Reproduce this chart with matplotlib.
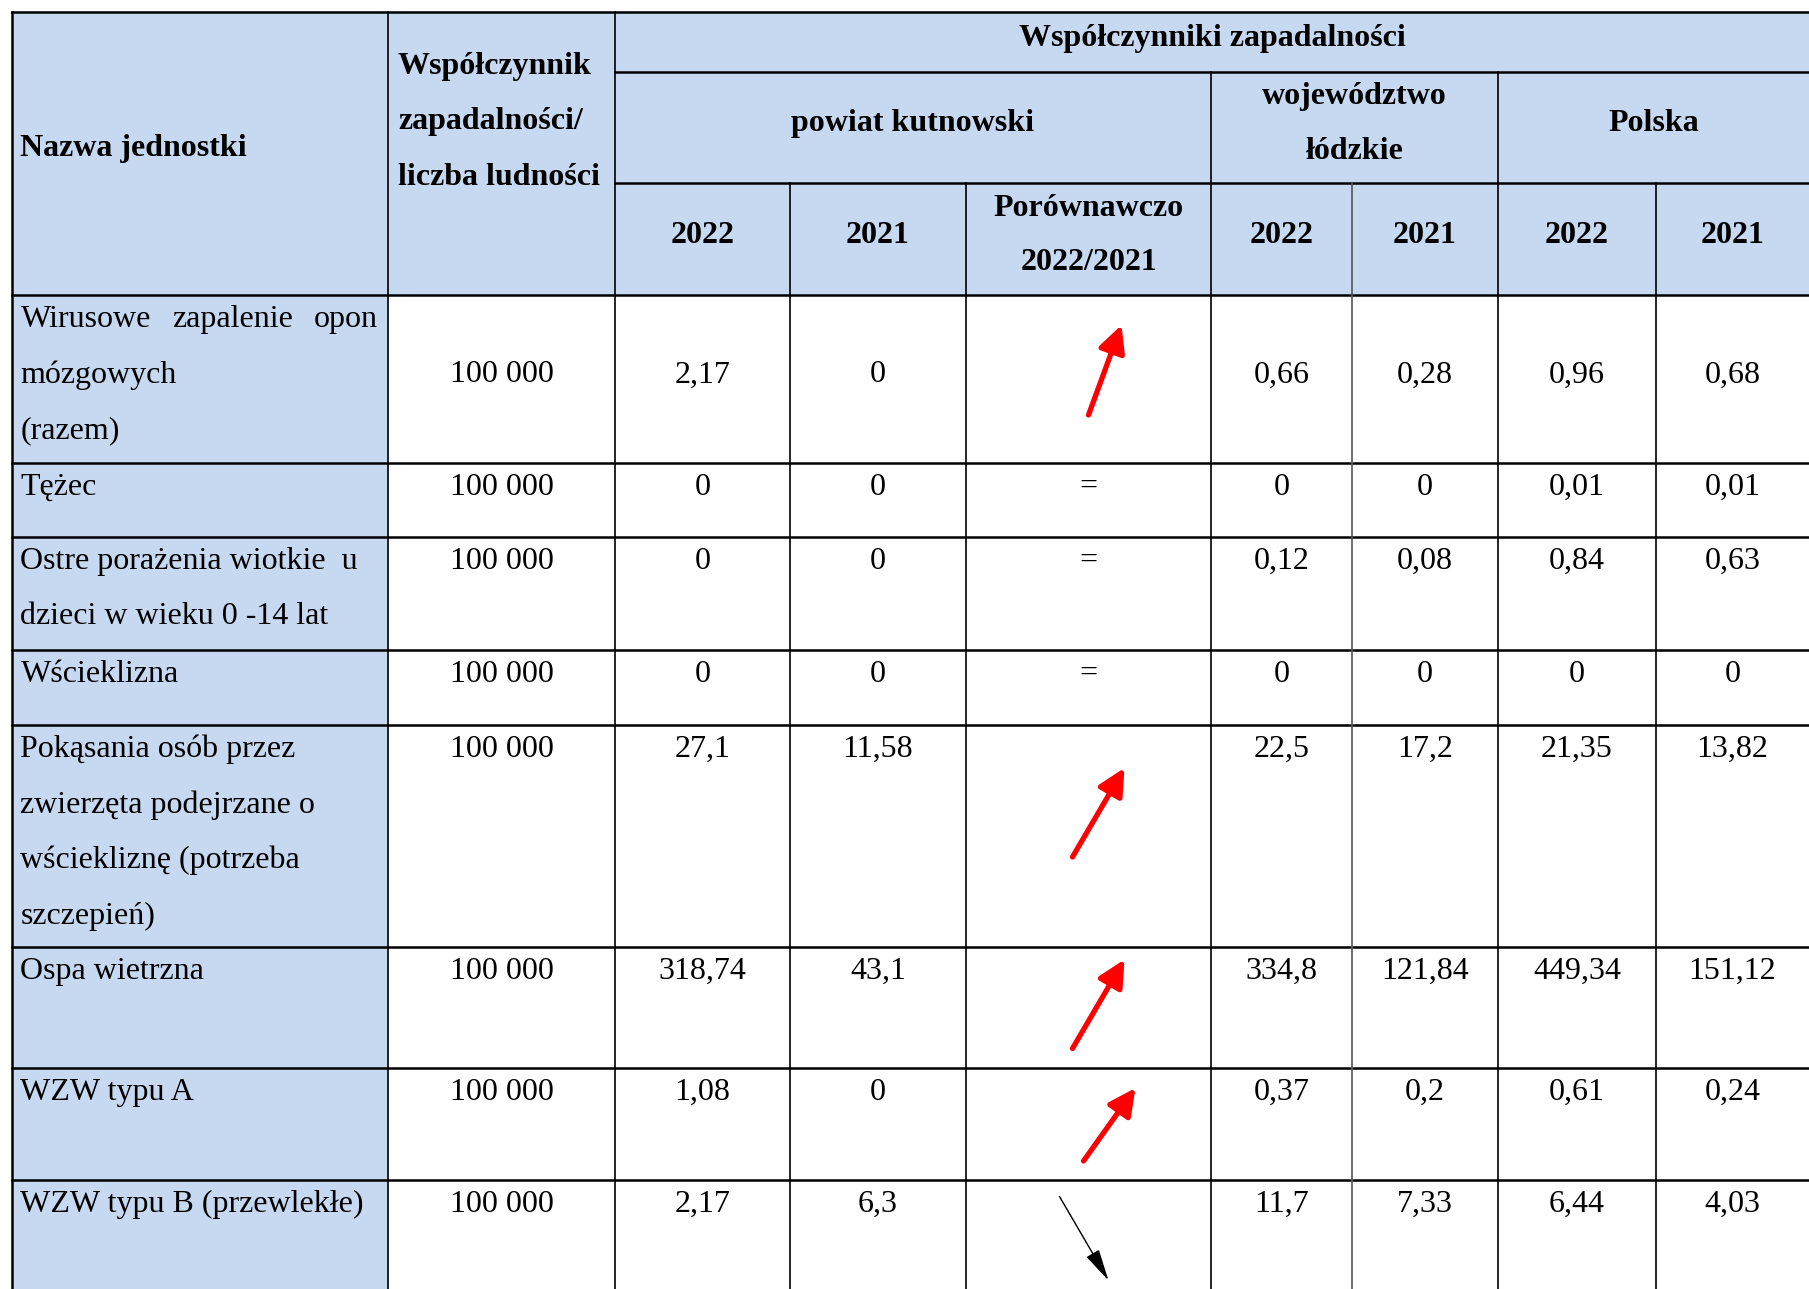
#!/usr/bin/env python3
import matplotlib
matplotlib.use("Agg")
import matplotlib.pyplot as plt
from matplotlib.patches import Rectangle

# --- table content -------------------------------------------------------
disease_names = [
    ["Wirusowe  zapalenie  opon", "mózgowych", "(razem)"],
    ["Tężec"],
    ["Ostre porażenia wiotkie  u", "dzieci w wieku 0 -14 lat"],
    ["Wścieklizna"],
    ["Pokąsania osób przez", "zwierzęta podejrzane o", "wściekliznę (potrzeba", "szczepień)"],
    ["Ospa wietrzna"],
    ["WZW typu A"],
    ["WZW typu B (przewlekłe)"],
]
population_base = ["100 000"] * 8
powiat_2022 = ["2,17", "0", "0", "0", "27,1", "318,74", "1,08", "2,17"]
powiat_2021 = ["0", "0", "0", "0", "11,58", "43,1", "0", "6,3"]
trend = ["up", "=", "=", "=", "up", "up", "up", "down"]
woj_2022 = ["0,66", "0", "0,12", "0", "22,5", "334,8", "0,37", "11,7"]
woj_2021 = ["0,28", "0", "0,08", "0", "17,2", "121,84", "0,2", "7,33"]
pl_2022 = ["0,96", "0,01", "0,84", "0", "21,35", "449,34", "0,61", "6,44"]
pl_2021 = ["0,68", "0,01", "0,63", "0", "13,82", "151,12", "0,24", "4,03"]

# --- layout (pixels of the 1809x1289 canvas) -----------------------------
W, H = 1809, 1289
col_x = [11.5, 388, 615, 790, 966, 1211, 1352, 1498, 1656, 1809]
head_y = [12, 72, 183, 295]
row_y = [295, 463, 537, 650, 725, 947, 1068, 1180, 1289]
line_gap = 55.5
first_line_pad = 21
blue = "#C6D9F1"
fs = 23
serif = "Liberation Serif"

# arrow offsets from cell centre: (start dx, start dy, tip dx, tip dy)
arrow_geom = {
    0: (0, 36, 33, -54),
    4: (-16, 21, 36, -68),
    5: (-16, 41, 36, -48),
    6: (-5, 37, 47, -36),
    7: (-29, -38, 20, 46),
}

fig = plt.figure(figsize=(W / 100, H / 100), dpi=100)
ax = fig.add_axes([0, 0, 1, 1])
ax.set_xlim(0, W)
ax.set_ylim(H, 0)
ax.axis("off")

# fills
ax.add_patch(Rectangle((col_x[0], head_y[0]), W - col_x[0], head_y[3] - head_y[0],
                       facecolor=blue, edgecolor="none"))
ax.add_patch(Rectangle((col_x[0], row_y[0]), col_x[1] - col_x[0], H - row_y[0],
                       facecolor=blue, edgecolor="none"))

# horizontal lines
ax.plot([col_x[0], W], [head_y[0]] * 2, color="black", lw=1.8)
ax.plot([col_x[2], W], [head_y[1]] * 2, color="black", lw=1.8)
ax.plot([col_x[2], W], [head_y[2]] * 2, color="black", lw=1.8)
for y in row_y[:-1]:
    ax.plot([col_x[0], W], [y, y], color="black", lw=1.8)

# vertical lines
for i, x in enumerate(col_x[:-1]):
    top = head_y[0]
    if i in (3, 4, 6, 8):
        top = head_y[2]
    elif i in (5, 7):
        top = head_y[1]
    color = "black"
    if i == 6:
        color = "#555555"
    ax.plot([x, x], [top, H], color=color, lw=1.2 if i > 0 else 1.8)

def txt(x, y, s, ha="center", bold=False):
    return ax.text(x, y, s, ha=ha, va="center_baseline", fontsize=fs, family=serif,
                   fontweight="bold" if bold else "normal", color="black")

def cx(i):
    return (col_x[i] + col_x[i + 1]) / 2

# header texts
txt(col_x[0] + 9, 145, "Nazwa jednostki", ha="left", bold=True)
for k, s in enumerate(["Współczynnik", "zapadalności/", "liczba ludności"]):
    txt(col_x[1] + 10, 63 + k * line_gap, s, ha="left", bold=True)
txt((col_x[2] + W) / 2, 35, "Współczynniki zapadalności", bold=True)
txt((col_x[2] + col_x[5]) / 2, 120, "powiat kutnowski", bold=True)
txt((col_x[5] + col_x[7]) / 2, 93, "województwo", bold=True)
txt((col_x[5] + col_x[7]) / 2, 148, "łódzkie", bold=True)
txt((col_x[7] + W) / 2, 120, "Polska", bold=True)
for i, s in zip([2, 3, 5, 6, 7, 8], ["2022", "2021", "2022", "2021", "2022", "2021"]):
    txt(cx(i), 232, s, bold=True)
txt(cx(4), 205, "Porównawczo", bold=True)
txt(cx(4), 259, "2022/2021", bold=True)

fig.canvas.draw()
renderer = fig.canvas.get_renderer()
inv = ax.transData.inverted()

def justify(y, s, left, right):
    words = s.split()
    objs = [txt(left, y, w, ha="left") for w in words]
    widths = []
    for o in objs:
        bb = o.get_window_extent(renderer=renderer)
        p0 = inv.transform((bb.x0, bb.y0))
        p1 = inv.transform((bb.x1, bb.y1))
        widths.append(abs(p1[0] - p0[0]))
    gap = (right - left - sum(widths)) / (len(words) - 1)
    x = left
    for o, w in zip(objs, widths):
        o.set_x(x)
        x += w + gap

# body rows
value_cols = [population_base, powiat_2022, powiat_2021, None,
              woj_2022, woj_2021, pl_2022, pl_2021]
for r, name_lines in enumerate(disease_names):
    top = row_y[r] + first_line_pad
    for k, s in enumerate(name_lines):
        y = top + k * line_gap
        if r == 0 and k == 0:
            justify(y, s, col_x[0] + 9, col_x[1] - 10)
        else:
            txt(col_x[0] + 9, y, s, ha="left")
    vy = top + line_gap if r == 0 else top
    for j, col in enumerate(value_cols):
        if col is not None:
            txt(cx(j + 1), vy, col[r])
    if trend[r] == "=":
        txt(cx(4), vy, "=")
    else:
        mid_y = (row_y[r] + row_y[r + 1]) / 2
        sx, sy, tx, ty = arrow_geom[r]
        if trend[r] == "up":
            props = dict(arrowstyle="-|>,head_length=0.9,head_width=0.45", lw=3.8,
                         color="#FF0000", shrinkA=0, shrinkB=0, mutation_scale=18)
        else:
            props = dict(arrowstyle="-|>,head_length=1.1,head_width=0.25", lw=1.0,
                         color="black", shrinkA=0, shrinkB=0, mutation_scale=18)
        ax.annotate("", xy=(cx(4) + tx, mid_y + ty), xytext=(cx(4) + sx, mid_y + sy),
                    arrowprops=props, annotation_clip=False)

fig.savefig("out.png", dpi=100, facecolor="white")
